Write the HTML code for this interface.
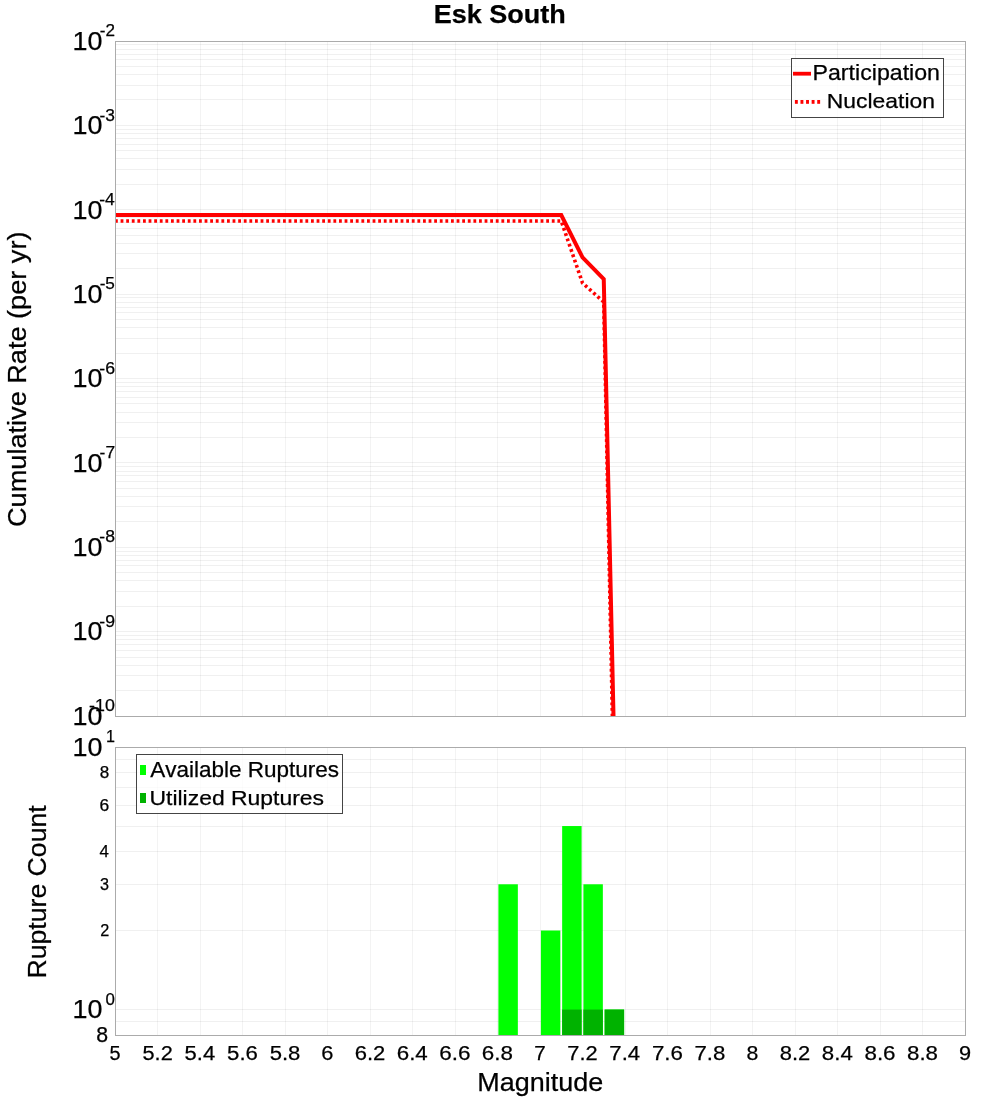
<!DOCTYPE html><html><head><meta charset="utf-8"><style>html,body{margin:0;padding:0;background:#fff;overflow:hidden}svg{display:block;will-change:transform}text{font-family:"Liberation Sans",sans-serif;fill:#000;stroke:#000;stroke-width:0.25px;font-kerning:none}</style></head><body>
<svg width="1000" height="1100" viewBox="0 0 1000 1100">
<rect x="0" y="0" width="1000" height="1100" fill="#fff"/>
<defs><clipPath id="c1"><rect x="115" y="41" width="851" height="676"/></clipPath></defs>
<g shape-rendering="crispEdges">
<rect x="157" y="42" width="1" height="674" fill="rgba(0,0,0,0.047)"/>
<rect x="157" y="748" width="1" height="287" fill="rgba(0,0,0,0.047)"/>
<rect x="200" y="42" width="1" height="674" fill="rgba(0,0,0,0.047)"/>
<rect x="200" y="748" width="1" height="287" fill="rgba(0,0,0,0.047)"/>
<rect x="242" y="42" width="1" height="674" fill="rgba(0,0,0,0.047)"/>
<rect x="242" y="748" width="1" height="287" fill="rgba(0,0,0,0.047)"/>
<rect x="285" y="42" width="1" height="674" fill="rgba(0,0,0,0.047)"/>
<rect x="285" y="748" width="1" height="287" fill="rgba(0,0,0,0.047)"/>
<rect x="327" y="42" width="1" height="674" fill="rgba(0,0,0,0.047)"/>
<rect x="327" y="748" width="1" height="287" fill="rgba(0,0,0,0.047)"/>
<rect x="370" y="42" width="1" height="674" fill="rgba(0,0,0,0.047)"/>
<rect x="370" y="748" width="1" height="287" fill="rgba(0,0,0,0.047)"/>
<rect x="412" y="42" width="1" height="674" fill="rgba(0,0,0,0.047)"/>
<rect x="412" y="748" width="1" height="287" fill="rgba(0,0,0,0.047)"/>
<rect x="455" y="42" width="1" height="674" fill="rgba(0,0,0,0.047)"/>
<rect x="455" y="748" width="1" height="287" fill="rgba(0,0,0,0.047)"/>
<rect x="497" y="42" width="1" height="674" fill="rgba(0,0,0,0.047)"/>
<rect x="497" y="748" width="1" height="287" fill="rgba(0,0,0,0.047)"/>
<rect x="540" y="42" width="1" height="674" fill="rgba(0,0,0,0.047)"/>
<rect x="540" y="748" width="1" height="287" fill="rgba(0,0,0,0.047)"/>
<rect x="582" y="42" width="1" height="674" fill="rgba(0,0,0,0.047)"/>
<rect x="582" y="748" width="1" height="287" fill="rgba(0,0,0,0.047)"/>
<rect x="625" y="42" width="1" height="674" fill="rgba(0,0,0,0.047)"/>
<rect x="625" y="748" width="1" height="287" fill="rgba(0,0,0,0.047)"/>
<rect x="667" y="42" width="1" height="674" fill="rgba(0,0,0,0.047)"/>
<rect x="667" y="748" width="1" height="287" fill="rgba(0,0,0,0.047)"/>
<rect x="710" y="42" width="1" height="674" fill="rgba(0,0,0,0.047)"/>
<rect x="710" y="748" width="1" height="287" fill="rgba(0,0,0,0.047)"/>
<rect x="752" y="42" width="1" height="674" fill="rgba(0,0,0,0.047)"/>
<rect x="752" y="748" width="1" height="287" fill="rgba(0,0,0,0.047)"/>
<rect x="795" y="42" width="1" height="674" fill="rgba(0,0,0,0.047)"/>
<rect x="795" y="748" width="1" height="287" fill="rgba(0,0,0,0.047)"/>
<rect x="837" y="42" width="1" height="674" fill="rgba(0,0,0,0.047)"/>
<rect x="837" y="748" width="1" height="287" fill="rgba(0,0,0,0.047)"/>
<rect x="880" y="42" width="1" height="674" fill="rgba(0,0,0,0.047)"/>
<rect x="880" y="748" width="1" height="287" fill="rgba(0,0,0,0.047)"/>
<rect x="922" y="42" width="1" height="674" fill="rgba(0,0,0,0.047)"/>
<rect x="922" y="748" width="1" height="287" fill="rgba(0,0,0,0.047)"/>
<rect x="116" y="690" width="849" height="1" fill="rgba(0,0,0,0.06)"/>
<rect x="116" y="675" width="849" height="1" fill="rgba(0,0,0,0.06)"/>
<rect x="116" y="665" width="849" height="1" fill="rgba(0,0,0,0.06)"/>
<rect x="116" y="657" width="849" height="1" fill="rgba(0,0,0,0.06)"/>
<rect x="116" y="650" width="849" height="1" fill="rgba(0,0,0,0.06)"/>
<rect x="116" y="644" width="849" height="1" fill="rgba(0,0,0,0.06)"/>
<rect x="116" y="639" width="849" height="1" fill="rgba(0,0,0,0.06)"/>
<rect x="116" y="635" width="849" height="1" fill="rgba(0,0,0,0.06)"/>
<rect x="116" y="631" width="849" height="1" fill="rgba(0,0,0,0.06)"/>
<rect x="116" y="606" width="849" height="1" fill="rgba(0,0,0,0.06)"/>
<rect x="116" y="591" width="849" height="1" fill="rgba(0,0,0,0.06)"/>
<rect x="116" y="580" width="849" height="1" fill="rgba(0,0,0,0.06)"/>
<rect x="116" y="572" width="849" height="1" fill="rgba(0,0,0,0.06)"/>
<rect x="116" y="565" width="849" height="1" fill="rgba(0,0,0,0.06)"/>
<rect x="116" y="560" width="849" height="1" fill="rgba(0,0,0,0.06)"/>
<rect x="116" y="555" width="849" height="1" fill="rgba(0,0,0,0.06)"/>
<rect x="116" y="551" width="849" height="1" fill="rgba(0,0,0,0.06)"/>
<rect x="116" y="547" width="849" height="1" fill="rgba(0,0,0,0.06)"/>
<rect x="116" y="521" width="849" height="1" fill="rgba(0,0,0,0.06)"/>
<rect x="116" y="506" width="849" height="1" fill="rgba(0,0,0,0.06)"/>
<rect x="116" y="496" width="849" height="1" fill="rgba(0,0,0,0.06)"/>
<rect x="116" y="488" width="849" height="1" fill="rgba(0,0,0,0.06)"/>
<rect x="116" y="481" width="849" height="1" fill="rgba(0,0,0,0.06)"/>
<rect x="116" y="475" width="849" height="1" fill="rgba(0,0,0,0.06)"/>
<rect x="116" y="471" width="849" height="1" fill="rgba(0,0,0,0.06)"/>
<rect x="116" y="466" width="849" height="1" fill="rgba(0,0,0,0.06)"/>
<rect x="116" y="462" width="849" height="1" fill="rgba(0,0,0,0.06)"/>
<rect x="116" y="437" width="849" height="1" fill="rgba(0,0,0,0.06)"/>
<rect x="116" y="422" width="849" height="1" fill="rgba(0,0,0,0.06)"/>
<rect x="116" y="412" width="849" height="1" fill="rgba(0,0,0,0.06)"/>
<rect x="116" y="403" width="849" height="1" fill="rgba(0,0,0,0.06)"/>
<rect x="116" y="397" width="849" height="1" fill="rgba(0,0,0,0.06)"/>
<rect x="116" y="391" width="849" height="1" fill="rgba(0,0,0,0.06)"/>
<rect x="116" y="386" width="849" height="1" fill="rgba(0,0,0,0.06)"/>
<rect x="116" y="382" width="849" height="1" fill="rgba(0,0,0,0.06)"/>
<rect x="116" y="378" width="849" height="1" fill="rgba(0,0,0,0.06)"/>
<rect x="116" y="353" width="849" height="1" fill="rgba(0,0,0,0.06)"/>
<rect x="116" y="338" width="849" height="1" fill="rgba(0,0,0,0.06)"/>
<rect x="116" y="327" width="849" height="1" fill="rgba(0,0,0,0.06)"/>
<rect x="116" y="319" width="849" height="1" fill="rgba(0,0,0,0.06)"/>
<rect x="116" y="312" width="849" height="1" fill="rgba(0,0,0,0.06)"/>
<rect x="116" y="307" width="849" height="1" fill="rgba(0,0,0,0.06)"/>
<rect x="116" y="302" width="849" height="1" fill="rgba(0,0,0,0.06)"/>
<rect x="116" y="297" width="849" height="1" fill="rgba(0,0,0,0.06)"/>
<rect x="116" y="294" width="849" height="1" fill="rgba(0,0,0,0.06)"/>
<rect x="116" y="268" width="849" height="1" fill="rgba(0,0,0,0.06)"/>
<rect x="116" y="253" width="849" height="1" fill="rgba(0,0,0,0.06)"/>
<rect x="116" y="243" width="849" height="1" fill="rgba(0,0,0,0.06)"/>
<rect x="116" y="235" width="849" height="1" fill="rgba(0,0,0,0.06)"/>
<rect x="116" y="228" width="849" height="1" fill="rgba(0,0,0,0.06)"/>
<rect x="116" y="222" width="849" height="1" fill="rgba(0,0,0,0.06)"/>
<rect x="116" y="217" width="849" height="1" fill="rgba(0,0,0,0.06)"/>
<rect x="116" y="213" width="849" height="1" fill="rgba(0,0,0,0.06)"/>
<rect x="116" y="209" width="849" height="1" fill="rgba(0,0,0,0.06)"/>
<rect x="116" y="184" width="849" height="1" fill="rgba(0,0,0,0.06)"/>
<rect x="116" y="169" width="849" height="1" fill="rgba(0,0,0,0.06)"/>
<rect x="116" y="158" width="849" height="1" fill="rgba(0,0,0,0.06)"/>
<rect x="116" y="150" width="849" height="1" fill="rgba(0,0,0,0.06)"/>
<rect x="116" y="144" width="849" height="1" fill="rgba(0,0,0,0.06)"/>
<rect x="116" y="138" width="849" height="1" fill="rgba(0,0,0,0.06)"/>
<rect x="116" y="133" width="849" height="1" fill="rgba(0,0,0,0.06)"/>
<rect x="116" y="129" width="849" height="1" fill="rgba(0,0,0,0.06)"/>
<rect x="116" y="125" width="849" height="1" fill="rgba(0,0,0,0.06)"/>
<rect x="116" y="99" width="849" height="1" fill="rgba(0,0,0,0.06)"/>
<rect x="116" y="85" width="849" height="1" fill="rgba(0,0,0,0.06)"/>
<rect x="116" y="74" width="849" height="1" fill="rgba(0,0,0,0.06)"/>
<rect x="116" y="66" width="849" height="1" fill="rgba(0,0,0,0.06)"/>
<rect x="116" y="59" width="849" height="1" fill="rgba(0,0,0,0.06)"/>
<rect x="116" y="54" width="849" height="1" fill="rgba(0,0,0,0.06)"/>
<rect x="116" y="49" width="849" height="1" fill="rgba(0,0,0,0.06)"/>
<rect x="116" y="44" width="849" height="1" fill="rgba(0,0,0,0.06)"/>
<rect x="116" y="1021" width="849" height="1" fill="rgba(0,0,0,0.06)"/>
<rect x="116" y="1009" width="849" height="1" fill="rgba(0,0,0,0.06)"/>
<rect x="116" y="930" width="849" height="1" fill="rgba(0,0,0,0.06)"/>
<rect x="116" y="884" width="849" height="1" fill="rgba(0,0,0,0.06)"/>
<rect x="116" y="851" width="849" height="1" fill="rgba(0,0,0,0.06)"/>
<rect x="116" y="826" width="849" height="1" fill="rgba(0,0,0,0.06)"/>
<rect x="116" y="805" width="849" height="1" fill="rgba(0,0,0,0.06)"/>
<rect x="116" y="787" width="849" height="1" fill="rgba(0,0,0,0.06)"/>
<rect x="116" y="772" width="849" height="1" fill="rgba(0,0,0,0.06)"/>
<rect x="116" y="759" width="849" height="1" fill="rgba(0,0,0,0.06)"/>
</g>
<g clip-path="url(#c1)">
<polyline points="115.00,221.00 561.25,221.00 582.50,283.00 603.75,302.00 625.00,1322.00" fill="none" stroke="#ff0000" stroke-width="3.6" stroke-dasharray="2.8 2.8" stroke-linejoin="miter"/>
<polyline points="115.00,215.00 561.25,215.00 582.50,257.40 603.75,279.00 625.00,1231.00" fill="none" stroke="#ff0000" stroke-width="4" stroke-linejoin="miter"/>
</g>
<rect x="498.40" y="884.28" width="19.45" height="150.72" fill="#00ff00"/>
<rect x="540.90" y="930.52" width="19.45" height="104.48" fill="#00ff00"/>
<rect x="562.15" y="826.04" width="19.45" height="208.96" fill="#00ff00"/>
<rect x="583.40" y="884.28" width="19.45" height="150.72" fill="#00ff00"/>
<rect x="604.65" y="1009.56" width="19.45" height="25.44" fill="#00ff00"/>
<rect x="562.15" y="1009.56" width="19.45" height="25.44" fill="#00b200"/>
<rect x="583.40" y="1009.56" width="19.45" height="25.44" fill="#00b200"/>
<rect x="604.65" y="1009.56" width="19.45" height="25.44" fill="#00b200"/>
<g shape-rendering="crispEdges" fill="none" stroke="#ababab" stroke-width="1">
<rect x="115.5" y="41.5" width="850" height="675"/>
<rect x="115.5" y="747.5" width="850" height="288"/>
</g>
<rect x="791.5" y="58.5" width="152" height="59" fill="rgba(255,255,255,0.75)" stroke="#444" stroke-width="1" shape-rendering="crispEdges"/>
<rect x="793" y="71.8" width="18" height="3.8" fill="#ff0000"/>
<rect x="794.90" y="100" width="2.9" height="3.8" fill="#ff0000"/>
<rect x="800.48" y="100" width="2.9" height="3.8" fill="#ff0000"/>
<rect x="806.06" y="100" width="2.9" height="3.8" fill="#ff0000"/>
<rect x="811.64" y="100" width="2.9" height="3.8" fill="#ff0000"/>
<rect x="817.22" y="100" width="2.9" height="3.8" fill="#ff0000"/>
<rect x="136.5" y="754.5" width="206" height="59" fill="rgba(255,255,255,0.75)" stroke="#444" stroke-width="1" shape-rendering="crispEdges"/>
<rect x="140" y="765" width="6" height="10" fill="#00ff00"/>
<rect x="140" y="793" width="6" height="10" fill="#00b200"/>
<text x="433.69" y="23.20" font-size="25.87" font-weight="bold" textLength="131.98" lengthAdjust="spacingAndGlyphs">Esk South</text>
<text x="477.29" y="1090.80" font-size="25.44" textLength="125.91" lengthAdjust="spacingAndGlyphs">Magnitude</text>
<text x="812.50" y="79.80" font-size="21.22" textLength="127.51" lengthAdjust="spacingAndGlyphs">Participation</text>
<text x="826.82" y="108.10" font-size="20.78" textLength="108.16" lengthAdjust="spacingAndGlyphs">Nucleation</text>
<text x="150.16" y="776.80" font-size="21.22" textLength="188.86" lengthAdjust="spacingAndGlyphs">Available Ruptures</text>
<text x="149.53" y="804.70" font-size="21.08" textLength="174.50" lengthAdjust="spacingAndGlyphs">Utilized Ruptures</text>
<g transform="rotate(-90)"><text x="-526.98" y="25.75" font-size="25.15" textLength="295.46" lengthAdjust="spacingAndGlyphs">Cumulative Rate (per yr)</text></g>
<g transform="rotate(-90)"><text x="-978.59" y="46.40" font-size="26.45" textLength="173.28" lengthAdjust="spacingAndGlyphs">Rupture Count</text></g>
<text x="109.49" y="1059.80" font-size="20.93" textLength="11.07" lengthAdjust="spacingAndGlyphs">5</text>
<text x="142.50" y="1059.80" font-size="20.93" textLength="30.23" lengthAdjust="spacingAndGlyphs">5.2</text>
<text x="184.55" y="1059.80" font-size="20.93" textLength="30.67" lengthAdjust="spacingAndGlyphs">5.4</text>
<text x="227.11" y="1059.80" font-size="20.93" textLength="30.87" lengthAdjust="spacingAndGlyphs">5.6</text>
<text x="269.67" y="1059.80" font-size="20.93" textLength="30.74" lengthAdjust="spacingAndGlyphs">5.8</text>
<text x="321.36" y="1059.80" font-size="20.93" textLength="12.14" lengthAdjust="spacingAndGlyphs">6</text>
<text x="354.68" y="1059.80" font-size="20.93" textLength="30.64" lengthAdjust="spacingAndGlyphs">6.2</text>
<text x="396.72" y="1059.80" font-size="20.93" textLength="31.08" lengthAdjust="spacingAndGlyphs">6.4</text>
<text x="439.28" y="1059.80" font-size="20.93" textLength="31.28" lengthAdjust="spacingAndGlyphs">6.6</text>
<text x="481.84" y="1059.80" font-size="20.93" textLength="31.15" lengthAdjust="spacingAndGlyphs">6.8</text>
<text x="534.26" y="1059.80" font-size="20.93" textLength="11.47" lengthAdjust="spacingAndGlyphs">7</text>
<text x="567.30" y="1059.80" font-size="20.93" textLength="30.38" lengthAdjust="spacingAndGlyphs">7.2</text>
<text x="609.34" y="1059.80" font-size="20.93" textLength="30.83" lengthAdjust="spacingAndGlyphs">7.4</text>
<text x="651.90" y="1059.80" font-size="20.93" textLength="31.03" lengthAdjust="spacingAndGlyphs">7.6</text>
<text x="694.46" y="1059.80" font-size="20.93" textLength="30.90" lengthAdjust="spacingAndGlyphs">7.8</text>
<text x="746.57" y="1059.80" font-size="20.93" textLength="11.85" lengthAdjust="spacingAndGlyphs">8</text>
<text x="779.82" y="1059.80" font-size="20.93" textLength="30.50" lengthAdjust="spacingAndGlyphs">8.2</text>
<text x="821.87" y="1059.80" font-size="20.93" textLength="30.95" lengthAdjust="spacingAndGlyphs">8.4</text>
<text x="864.43" y="1059.80" font-size="20.93" textLength="31.15" lengthAdjust="spacingAndGlyphs">8.6</text>
<text x="906.99" y="1059.80" font-size="20.93" textLength="31.02" lengthAdjust="spacingAndGlyphs">8.8</text>
<text x="958.95" y="1059.80" font-size="20.93" textLength="12.11" lengthAdjust="spacingAndGlyphs">9</text>
<text x="72.55" y="49.75" font-size="25.44" textLength="29.90" lengthAdjust="spacingAndGlyphs">10</text>
<text x="99.87" y="36.16" font-size="16.95" textLength="15.19" lengthAdjust="spacingAndGlyphs">-2</text>
<text x="72.55" y="134.12" font-size="25.44" textLength="29.90" lengthAdjust="spacingAndGlyphs">10</text>
<text x="99.54" y="120.53" font-size="16.95" textLength="15.42" lengthAdjust="spacingAndGlyphs">-3</text>
<text x="72.55" y="218.50" font-size="25.44" textLength="29.90" lengthAdjust="spacingAndGlyphs">10</text>
<text x="99.15" y="204.91" font-size="16.95" textLength="15.56" lengthAdjust="spacingAndGlyphs">-4</text>
<text x="72.55" y="302.88" font-size="25.44" textLength="29.90" lengthAdjust="spacingAndGlyphs">10</text>
<text x="99.66" y="289.29" font-size="16.95" textLength="15.26" lengthAdjust="spacingAndGlyphs">-5</text>
<text x="72.55" y="387.25" font-size="25.44" textLength="29.90" lengthAdjust="spacingAndGlyphs">10</text>
<text x="99.25" y="373.66" font-size="16.95" textLength="15.73" lengthAdjust="spacingAndGlyphs">-6</text>
<text x="72.55" y="471.62" font-size="25.44" textLength="29.90" lengthAdjust="spacingAndGlyphs">10</text>
<text x="99.62" y="458.04" font-size="16.95" textLength="15.45" lengthAdjust="spacingAndGlyphs">-7</text>
<text x="72.55" y="556.00" font-size="25.44" textLength="29.90" lengthAdjust="spacingAndGlyphs">10</text>
<text x="99.34" y="542.41" font-size="16.95" textLength="15.62" lengthAdjust="spacingAndGlyphs">-8</text>
<text x="72.55" y="640.38" font-size="25.44" textLength="29.90" lengthAdjust="spacingAndGlyphs">10</text>
<text x="99.37" y="626.78" font-size="16.95" textLength="15.66" lengthAdjust="spacingAndGlyphs">-9</text>
<text x="72.55" y="724.75" font-size="25.44" textLength="29.90" lengthAdjust="spacingAndGlyphs">10</text>
<text x="89.12" y="711.16" font-size="16.95" textLength="25.78" lengthAdjust="spacingAndGlyphs">-10</text>
<text x="72.55" y="755.75" font-size="25.44" textLength="29.90" lengthAdjust="spacingAndGlyphs">10</text>
<text x="106.03" y="742.16" font-size="16.95" textLength="8.96" lengthAdjust="spacingAndGlyphs">1</text>
<text x="72.55" y="1018.31" font-size="25.44" textLength="29.90" lengthAdjust="spacingAndGlyphs">10</text>
<text x="105.48" y="1004.72" font-size="16.95" textLength="9.38" lengthAdjust="spacingAndGlyphs">0</text>
<text x="99.66" y="778.27" font-size="16.95" textLength="9.48" lengthAdjust="spacingAndGlyphs">8</text>
<text x="99.46" y="811.08" font-size="16.95" textLength="9.71" lengthAdjust="spacingAndGlyphs">6</text>
<text x="99.51" y="857.31" font-size="16.95" textLength="9.38" lengthAdjust="spacingAndGlyphs">4</text>
<text x="100.10" y="890.11" font-size="16.95" textLength="9.01" lengthAdjust="spacingAndGlyphs">3</text>
<text x="100.18" y="936.35" font-size="16.95" textLength="9.04" lengthAdjust="spacingAndGlyphs">2</text>
<text x="96.37" y="1042.30" font-size="21.22" textLength="11.85" lengthAdjust="spacingAndGlyphs">8</text>
</svg></body></html>
